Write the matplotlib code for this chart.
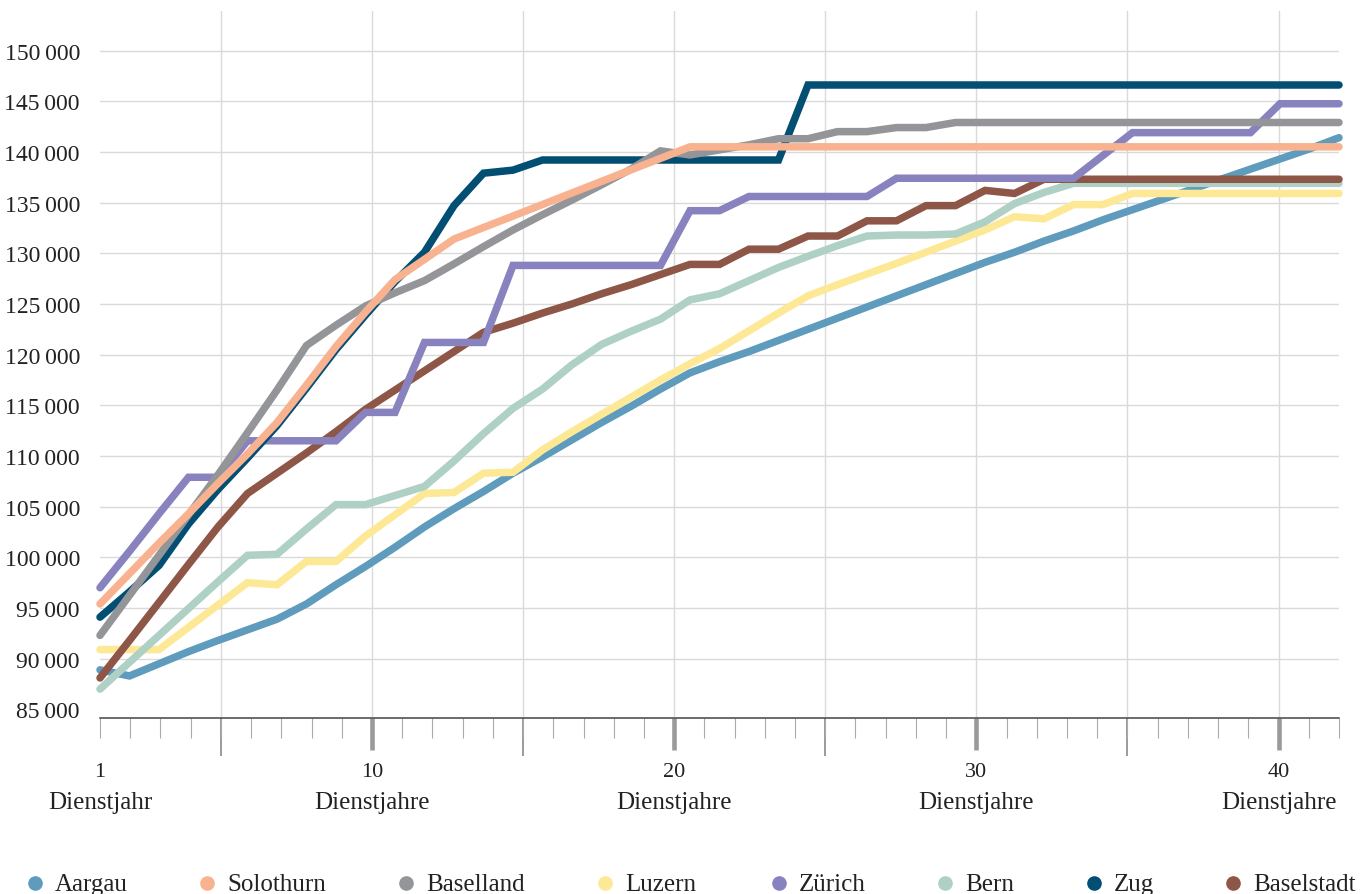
import numpy as np
import matplotlib
matplotlib.use("Agg")
import matplotlib.pyplot as plt
import matplotlib.transforms as mtransforms
from matplotlib.lines import Line2D
from matplotlib.ticker import FixedLocator, FuncFormatter

# ---------------- data ----------------
# 43 values per canton, spread evenly over the axis range 1 .. 42 (Dienstjahre)
n_points = 43
x_first, x_last = 1, 42

aargau = [88900, 88300, 89500, 90700, 91800, 92850, 93900, 95400, 97300, 99100,
          101000, 103000, 104800, 106500, 108300, 109900, 111600, 113300, 114900, 116600,
          118200, 119300, 120300, 121400, 122500, 123600, 124700, 125800, 126900, 128000,
          129100, 130100, 131200, 132200, 133300, 134300, 135300, 136300, 137300, 138300,
          139300, 140300, 141400]
solothurn = [95400, 98400, 101400, 104300, 107300, 110200, 113300, 117000, 120800, 124200,
             127400, 129400, 131400, 132540, 133670, 134810, 135950, 137090, 138230, 139360] + [140500] * 23
baselland = [92300, 96250, 100200, 104200, 108150, 112300, 116500, 120900, 122900, 124800,
             126100, 127300, 128950, 130650, 132300, 133800, 135250, 136750, 138300, 140100,
             139700, 140200, 140700, 141300, 141300, 142000, 142000, 142400, 142400] + [142900] * 14
luzern = [90900, 90900, 90900, 93100, 95300, 97500, 97300, 99600, 99600, 102100,
          104200, 106300, 106400, 108300, 108400, 110600, 112400, 114100, 115800, 117500,
          119100, 120600, 122350, 124100, 125800, 126900, 127950, 129000, 130100, 131200,
          132300, 133600, 133400, 134800, 134800] + [135900] * 8
zuerich = ([97000, 100600, 104300, 107900, 107900, 111500, 111500, 111500, 111500, 114300,
            114300, 121200, 121200, 121200] + [128800] * 6 + [134200] * 2 + [135600] * 5
           + [137400] * 7 + [139650] + [141900] * 5 + [144750] * 3)
bern = [87000, 89650, 92300, 94950, 97600, 100200, 100300, 102800, 105200, 105200,
        106100, 107000, 109500, 112200, 114700, 116600, 119000, 121000, 122300, 123500,
        125400, 126000, 127300, 128600, 129700, 130750, 131700, 131800, 131800, 131900,
        133100, 134900, 136000] + [136900] * 10
zug = ([94100, 96600, 99200, 103300, 106700, 109800, 113000, 116700, 120500, 123900,
        127200, 130100, 134700, 137900, 138200] + [139200] * 9 + [146600] * 19)
baselstadt = [88100, 91800, 95550, 99300, 103000, 106300, 108300, 110300, 112400, 114600,
              116500, 118400, 120300, 122200, 123100, 124100, 125000, 126000, 126900, 127900,
              128900, 128900, 130400, 130400, 131700, 131700, 133200, 133200, 134700, 134700,
              136200, 135900] + [137300] * 11

names = ["Aargau", "Solothurn", "Baselland", "Luzern", "Zürich", "Bern", "Zug", "Baselstadt"]
values = [aargau, solothurn, baselland, luzern, zuerich, bern, zug, baselstadt]

y_ticks = list(range(85000, 150001, 5000))
label_years = [1, 10, 20, 30, 40]
label_units = ["Dienstjahr", "Dienstjahre", "Dienstjahre", "Dienstjahre", "Dienstjahre"]

# ---------------- style ----------------
colors = ["#5E9BBC", "#F9B28F", "#949598", "#FDE995", "#8883BE", "#AFD0C4", "#034E73", "#8E5646"]
zorders = [2, 9, 8, 3, 6, 4, 7, 5]
legend_px = [35, 207, 406, 605, 779, 945, 1094, 1233]
FONT = ["Liberation Serif", "DejaVu Serif"]
TXT = "#222222"
GRID = "#DADADA"
W, H = 1360, 895

plt.rcParams["font.family"] = FONT

fig = plt.figure(figsize=(W / 100, H / 100), dpi=100)
ax = fig.add_axes([100 / W, 176.5 / H, 1239 / W, 706.5 / H])

x = np.linspace(x_first, x_last, n_points)
for name, vals, c, z in zip(names, values, colors, zorders):
    ax.plot(x, vals, color=c, lw=5.4, solid_capstyle="round", solid_joinstyle="miter",
            zorder=z, clip_on=False)

ax.set_xlim(x_first, x_last)
ax.set_ylim(84200, 153900)

for s in ["top", "right", "left"]:
    ax.spines[s].set_visible(False)
ax.spines["bottom"].set_color("#444444")
ax.spines["bottom"].set_linewidth(1.1)
ax.spines["bottom"].set_zorder(20)

# y axis
ax.yaxis.set_major_locator(FixedLocator(y_ticks))
ax.yaxis.set_major_formatter(FuncFormatter(lambda v, p: f"{int(v):,}".replace(",", "\u2009")))
ax.tick_params(axis="y", length=0, pad=14.4, labelsize=17, labelcolor=TXT)
ax.grid(axis="y", color=GRID, lw=1.0, zorder=0)
ax.get_ygridlines()[0].set_visible(False)
for gx in range(5, 41, 5):
    ax.axvline(gx, color=GRID, lw=1.0, zorder=0)
ax.set_axisbelow(True)

# x axis ticks
ax.xaxis.set_major_locator(FixedLocator([10, 20, 30, 40]))
ax.xaxis.set_minor_locator(FixedLocator(list(range(1, 43))))
ax.tick_params(axis="x", which="major", length=23, width=3.3, color="#9a9a9a", labelbottom=False)
ax.tick_params(axis="x", which="minor", length=14.4, width=0.8, color="#aaaaaa", labelbottom=False)
sec = ax.secondary_xaxis("bottom")
sec.xaxis.set_major_locator(FixedLocator([5, 15, 25, 35]))
sec.tick_params(axis="x", length=27.4, width=1.2, color="#8a8a8a", labelbottom=False)
sec.spines["bottom"].set_visible(False)

trans = mtransforms.blended_transform_factory(ax.transData, ax.transAxes)
for xv, unit in zip(label_years, label_units):
    ax.text(xv, -(777 - 718.5) / 706.5, str(xv), transform=trans, ha="center", va="baseline",
            fontsize=16, color=TXT)
    ax.text(xv, -(809 - 718.5) / 706.5, unit, transform=trans, ha="center", va="baseline",
            fontsize=18, color=TXT)

# legend
for name, c, px in zip(names, colors, legend_px):
    fig.add_artist(Line2D([px / W], [(H - 884) / H], transform=fig.transFigure, marker="o",
                          markersize=9.5, color=c, linestyle=""))
    fig.text((px + 20) / W, (H - 891) / H, name, ha="left", va="baseline", fontsize=18, color=TXT)

fig.savefig("out.png", dpi=100, facecolor="white")
